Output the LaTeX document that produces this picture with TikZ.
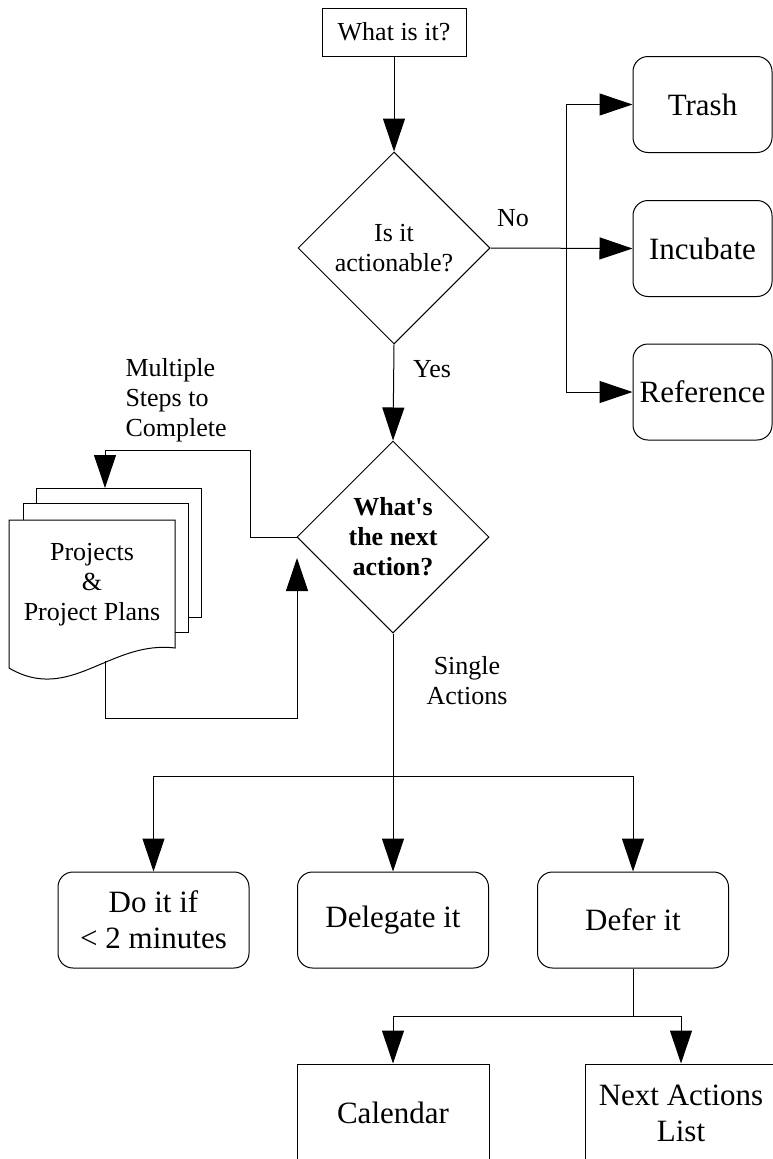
\documentclass[tikz,border=0pt]{standalone}
\usepackage{fontspec}
\setmainfont{Liberation Serif}
\usetikzlibrary{arrows.meta,shapes.geometric}
\begin{document}
\begin{tikzpicture}[x=1pt,y=-1pt,line width=1pt,
  arr/.style={-{Triangle[length=33pt,width=22pt]}},
  small/.style={font=\fontsize{26}{30}\selectfont,align=center,inner sep=0pt},
  big/.style={font=\fontsize{31}{36}\selectfont,align=center,inner sep=0pt},
  rbox/.style={big,draw,rounded corners=15pt,minimum width=191pt,minimum height=96pt},
  sbox/.style={big,draw,minimum width=192pt,minimum height=98pt},
  dia/.style={small,draw,diamond,aspect=1,minimum width=192pt,minimum height=192pt},
  page/.style={draw,fill=white,minimum width=165pt,minimum height=129pt,inner sep=0pt}]
\useasboundingbox (0,0) rectangle (773,1159);
\clip (0,0) rectangle (773,1159);

% top
\node[small,draw,minimum width=144pt,minimum height=48pt] (what) at (394,32) {What is it?};
\node[dia] (d1) at (394,248) {Is it\\actionable?};
\draw[arr] (what.south) -- (d1.north);

% right branch
\node[rbox,minimum width=139pt] (trash) at (702.5,104.5) {Trash};
\node[rbox,minimum width=139pt] (inc) at (702.5,248.5) {Incubate};
\node[rbox,minimum width=139pt] (ref) at (702.5,392) {Reference};
\coordinate (rsplit) at (566,248);
\draw[arr] (d1.east) -- (inc.west);
\draw[arr] (rsplit) |- (trash.west);
\draw[arr] (rsplit) |- (ref.west);
\node[small] (no) at (513,218) {No};

% second decision
\node[dia] (d2) at (393,537) {\bfseries What\textquotesingle s\\\bfseries the next\\\bfseries action?};
\draw[arr] (d1.south) -- (d2.north);
\node[small] (yes) at (432,369) {Yes};

% projects document stack
\node[page] (pg3) at (118.5,552.5) {};
\node[page] (pg2) at (105.5,568) {};
\draw[fill=white] (9,520) -- (175,520) -- (175,648)
  .. controls (110,640) and (70,704) .. (9,668) -- cycle;
\node[small] (proj) at (92,585) {Projects\\\&\\Project Plans};
\coordinate (pgtop) at (105,488);
\coordinate (pgbot) at (105,661);
\coordinate (loopin) at (297,558);
\draw[arr] (d2.west) -| (250,450) -| (pgtop);
\draw[arr] (pgbot) -- (105,718) -| (loopin);
\node[small,align=left,anchor=west] (multi) at (125,400) {Multiple\\Steps to\\Complete};

% single actions
\node[small] (single) at (467,681) {Single\\Actions};
\node[rbox] (do) at (153.5,920) {Do it if\\< 2 minutes};
\node[rbox] (del) at (393,920) {Delegate it};
\node[rbox] (defer) at (633,920) {Defer it};
\coordinate (split) at (393,776);
\draw (d2.south) -- (split);
\draw[arr] (split) -| (do.north);
\draw[arr] (split) -- (del.north);
\draw[arr] (split) -| (defer.north);

% defer branch
\node[sbox] (cal) at (393,1113) {Calendar};
\node[sbox] (next) at (681,1113) {Next Actions\\List};
\coordinate (split2) at (633,1016);
\draw (defer.south) -- (split2);
\draw[arr] (split2) -| (cal.north);
\draw[arr] (split2) -| (next.north);
\end{tikzpicture}
\end{document}
